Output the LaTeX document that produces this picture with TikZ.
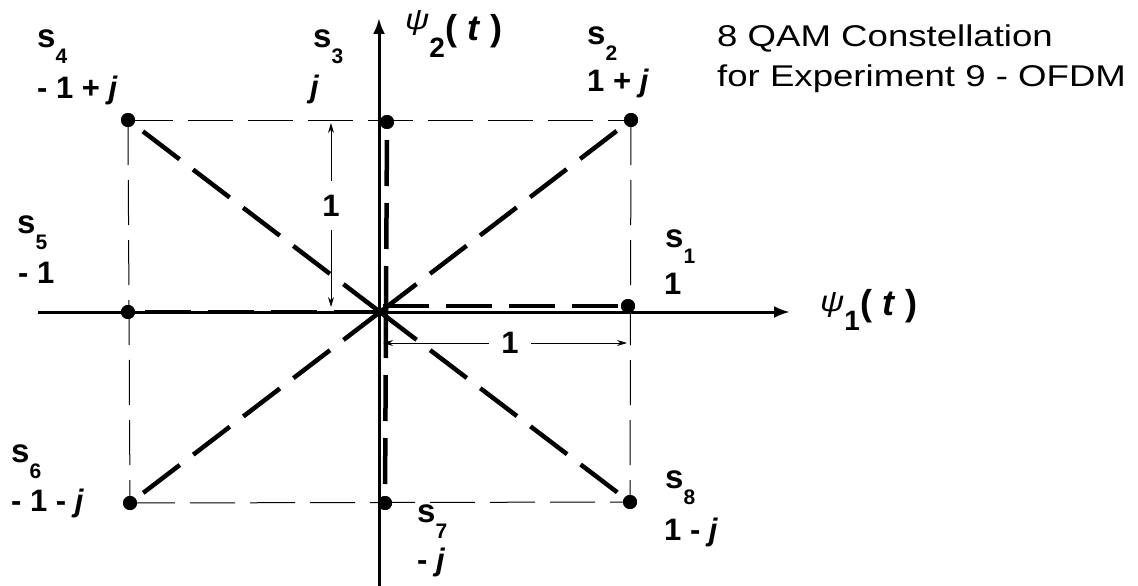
\documentclass[tikz,border=0pt]{standalone}
\usepackage{fontspec}
\setmainfont{Liberation Sans}
\usetikzlibrary{arrows.meta}
\newcommand{\T}[1]{\scalebox{1.22}[1]{#1}}
\newcommand{\fsz}[1]{\fontsize{#1}{#1}\selectfont}
\newcommand{\sk}[1]{{\fsz{33}\bfseries s\raisebox{-16pt}{\fsz{21}#1}}}
\newcommand{\val}[1]{{\fsz{31}\bfseries #1}}
\newcommand{\jj}{\textit{j}}
\begin{document}
\begin{tikzpicture}[x=1pt,y=-1pt,
  dot/.style={circle,fill=black,inner sep=0pt,minimum size=14pt},
  axis/.style={line width=3pt,-{Latex[length=16pt,width=12pt]}},
  ray/.style={line width=4.5pt,dash pattern=on 46pt off 17pt},
  gridline/.style={line width=1pt,dash pattern=on 45pt off 15pt},
  dim/.style={line width=0.9pt,{Stealth[length=10pt,width=6pt]}-{Stealth[length=10pt,width=6pt]}},
  lbl/.style={anchor=base west,inner sep=0pt},
  dimlbl/.style={fill=white,font=\fsz{31}\bfseries}
]
\useasboundingbox (0,0) rectangle (1138,586);

% constellation points
\node[dot] (s1) at (628,306) {};
\node[dot] (s2) at (631,120) {};
\node[dot] (s3) at (387,122) {};
\node[dot] (s4) at (128,120) {};
\node[dot] (s5) at (128,312) {};
\node[dot] (s6) at (130,503) {};
\node[dot] (s7) at (385,503) {};
\node[dot] (s8) at (630,502) {};

% thin dashed rectangle
\draw[gridline] (s4.center) -- (s2.center);
\draw[gridline] (s2.center) -- (s8.center);
\draw[gridline] (s6.center) -- (s8.center);
\draw[gridline] (s4.center) -- (s6.center);

% origins of the rays
\coordinate (O) at (380,312);
\coordinate (O1) at (383,306);
\coordinate (O3) at (386,312);

% rays
\draw[ray] (O) -- (s2.center);
\draw[ray] (O) -- (s4.center);
\draw[ray] (O) -- (s6.center);
\draw[ray] (O) -- (s8.center);
\draw[ray] (O) -- (s5.center);
\draw[ray] (O1) -- (s1.center);
\draw[ray] (O3) -- (s3.center);
\draw[ray] (O3) -- (s7.center);

% axes
\coordinate (xl) at (38,312);
\coordinate (xr) at (790,312);
\coordinate (yb) at (379,586);
\coordinate (yt) at (379,18);
\draw[axis] (xl) -- (xr);
\draw[axis] (yb) -- (yt);

% dots drawn on top
\foreach \p in {s1,s2,s3,s4,s5,s6,s7,s8}
  \fill (\p) circle (7pt);

% dimension arrows
\coordinate (va) at (331,123);
\coordinate (vb) at (331,307);
\draw[dim] (va) -- node[dimlbl,pos=0.45,inner xsep=2pt,inner ysep=14pt] {1} (vb);
\coordinate (ha) at (383,343);
\coordinate (hb) at (627,343);
\draw[dim] (ha) -- node[dimlbl,pos=0.52,inner xsep=12pt,inner ysep=2pt] {1} (hb);

% labels
\node[lbl] (l4) at (37,48) {\sk{4}};
\node[lbl] (v4) at (37,99) {\val{- 1 + \jj}};
\node[lbl] (l3) at (313,48) {\sk{3}};
\node[lbl] (v3) at (310,97) {\val{\jj}};
\node[lbl] (l2) at (587,45) {\sk{2}};
\node[lbl] (v2) at (587,92) {\val{1 + \jj}};
\node[lbl] (l5) at (17,233) {\sk{5}};
\node[lbl] (v5) at (18,283) {\val{- 1}};
\node[lbl] (l1) at (665,247) {\sk{1}};
\node[lbl] (v1) at (664,294) {\val{1}};
\node[lbl] (l6) at (11,462) {\sk{6}};
\node[lbl] (v6) at (11,511) {\val{- 1 - \jj}};
\node[lbl] (l7) at (417,522) {\sk{7}};
\node[lbl] (v7) at (417,570) {\val{- \jj}};
\node[lbl] (l8) at (665,488) {\sk{8}};
\node[lbl] (v8) at (664,540) {\val{1 - \jj}};

% axis labels
\node[lbl] (psi2) at (405,41) {\raisebox{11pt}{\scalebox{1.15}[1]{\fsz{29}\itshape ψ}}\raisebox{-17pt}{\fsz{28}\bfseries 2}{\fsz{36}\bfseries( \textit{t} )}};
\node[lbl] (psi1) at (820,315) {\raisebox{4pt}{\scalebox{1.15}[1]{\fsz{29}\itshape ψ}}\raisebox{-15pt}{\fsz{28}\bfseries 1}{\fsz{36}\bfseries( \textit{t} )}};

% title
\node[lbl] (t1) at (717,47) {\T{\fsz{30}8 QAM Constellation}};
\node[lbl] (t2) at (717,87) {\T{\fsz{30}for Experiment 9 - OFDM}};
\end{tikzpicture}
\end{document}
